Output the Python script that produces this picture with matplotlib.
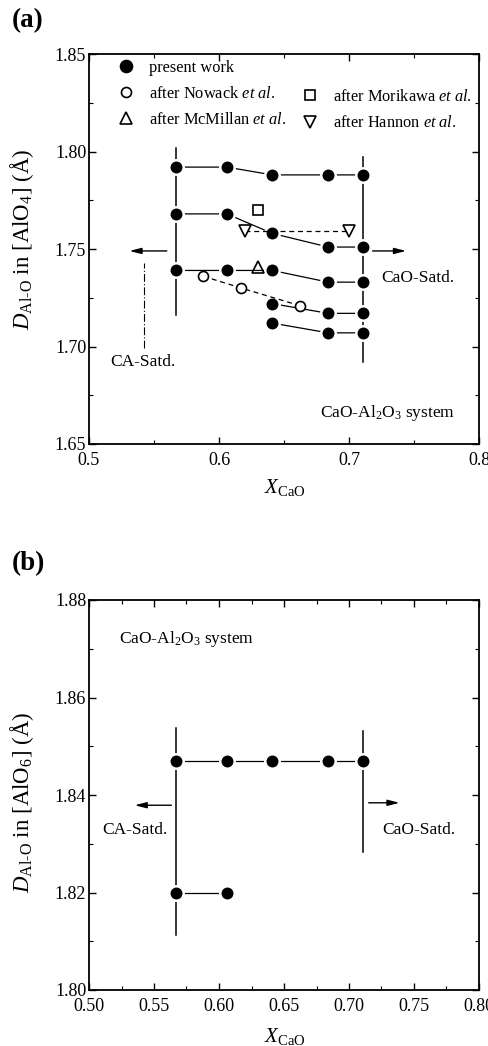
import matplotlib
matplotlib.use("Agg")
import matplotlib.pyplot as plt
from matplotlib.lines import Line2D
from matplotlib.ticker import MultipleLocator, FormatStrFormatter

plt.rcParams['font.family'] = ['Liberation Serif', 'DejaVu Serif']
plt.rcParams['mathtext.fontset'] = 'custom'
plt.rcParams['mathtext.rm'] = 'Liberation Serif'
plt.rcParams['mathtext.it'] = 'Liberation Serif:italic'
plt.rcParams['mathtext.bf'] = 'Liberation Serif:bold'

# composition of the five melts (mole fraction CaO)
x_cao = [0.567, 0.606, 0.641, 0.684, 0.711]

# (a) Al-O distance in [AlO4], present work, one list per peak series
a_row1 = [1.792, 1.792, 1.788, 1.788, 1.788]
a_row2 = [1.768, 1.768, 1.758, 1.751, 1.751]
a_row3 = [1.739, 1.739, 1.739, 1.733, 1.733]
x_short = [0.641, 0.684, 0.711]
a_row4 = [1.722, 1.717, 1.717]
a_row5 = [1.712, 1.707, 1.707]

# literature values
nowack_x = [0.588, 0.617, 0.662]
nowack_y = [1.736, 1.730, 1.721]
morikawa_x = [0.630]
morikawa_y = [1.770]
mcmillan_x = [0.630]
mcmillan_y = [1.741]
hannon_x = [0.620, 0.700]
hannon_y = [1.759, 1.759]

# (b) Al-O distance in [AlO6]
b_row1 = [1.847, 1.847, 1.847, 1.847, 1.847]
x_b2 = [0.567, 0.606]
b_row2 = [1.820, 1.820]

fs = 12.5
fs_leg = 11.8
fs_tick = 13
fs_lab = 16.5
fig = plt.figure(figsize=(4.89, 10.46), dpi=100)
ax_a = fig.add_axes([89 / 489, 1 - 444 / 1046, 390 / 489, 390 / 1046])
ax_b = fig.add_axes([89 / 489, 1 - 990 / 1046, 390 / 489, 390 / 1046])

# white rim around the solid dots leaves a small gap where the lines meet them
fill_kw = dict(marker='o', ms=10.4, mfc='k', mec='white', mew=1.8, color='k', lw=0.9)
open_kw = dict(mfc='white', mec='k', mew=1.2, color='k', lw=0.9)
arrow_kw = dict(arrowstyle='-|>,head_length=0.7,head_width=0.18', lw=1.0, color='k')


def style_axes(ax, xmaj, xmin, ymaj, ymin, xfmt, yfmt):
    for sp in ax.spines.values():
        sp.set_linewidth(1.3)
    ax.xaxis.set_major_locator(MultipleLocator(xmaj))
    ax.xaxis.set_minor_locator(MultipleLocator(xmin))
    ax.yaxis.set_major_locator(MultipleLocator(ymaj))
    ax.yaxis.set_minor_locator(MultipleLocator(ymin))
    ax.xaxis.set_major_formatter(FormatStrFormatter(xfmt))
    ax.yaxis.set_major_formatter(FormatStrFormatter(yfmt))
    ax.tick_params(which='both', direction='in', top=True, right=True, labelsize=fs_tick)
    ax.tick_params(which='major', length=5, width=1.0)
    ax.tick_params(which='minor', length=3, width=0.8)
    ax.tick_params(axis='y', pad=2)
    ax.tick_params(axis='x', pad=6)


# ---- panel (a) ----
ax = ax_a
ax.plot(x_cao, a_row1, **fill_kw, zorder=3)
ax.plot(x_cao, a_row2, **fill_kw, zorder=3)
ax.plot(x_cao, a_row3, **fill_kw, zorder=3)
ax.plot(x_short, a_row4, **fill_kw, zorder=3)
ax.plot(x_short, a_row5, **fill_kw, zorder=3)
ax.plot(nowack_x, nowack_y, marker='o', ms=7.2, ls=(0, (4, 3)), **open_kw, zorder=4)
ax.plot(morikawa_x, morikawa_y, marker='s', ms=7.6, ls='none', **open_kw, zorder=4)
ax.plot(mcmillan_x, mcmillan_y, marker='^', ms=8.5, ls='none', mfc='none', mec='k', mew=1.2, zorder=4)
ax.plot(hannon_x, hannon_y, marker='v', ms=8.5, ls=(0, (4, 3)), **open_kw, zorder=4)

# saturation limits
ax.plot([x_cao[0], x_cao[0]], [1.716, 1.802], color='k', lw=1.1, zorder=2)
ax.plot([x_cao[-1], x_cao[-1]], [1.692, 1.797], color='k', lw=1.1, zorder=2)
ax.plot([0.542, 0.542], [1.699, 1.743], color='k', lw=0.8, ls=(0, (7, 2, 1, 2)))
ax.annotate('', xy=(0.529, 1.749), xytext=(0.562, 1.749), arrowprops=arrow_kw)
ax.annotate('', xy=(0.746, 1.749), xytext=(0.716, 1.749), arrowprops=arrow_kw)
ax.text(0.516, 1.692, 'CA-Satd.', fontsize=fs, va='center', ha='left')
ax.text(0.7245, 1.735, 'CaO-Satd.', fontsize=fs, va='center', ha='left')
ax.text(0.782, 1.666, r'CaO-Al$_2$O$_3$ system', fontsize=fs, va='center', ha='right')

ax.set_xlim(0.5, 0.8)
ax.set_ylim(1.65, 1.85)
style_axes(ax, 0.1, 0.05, 0.05, 0.025, '%.1f', '%.2f')
ax.set_xlabel(r'$X_{\mathrm{CaO}}$', fontsize=15)
ax.set_ylabel(r'$D_{\mathrm{Al\text{-}O}}$ in [AlO$_4$] (Å)', fontsize=fs_lab)
ax.xaxis.set_label_coords(0.503, -0.085)
ax.yaxis.set_label_coords(-0.135, 0.525)

h_fill = Line2D([], [], ls='none', marker='o', ms=8.8, mfc='k', mec='k')
h_now = Line2D([], [], ls='none', marker='o', ms=7.2, mfc='white', mec='k', mew=1.2)
h_mcm = Line2D([], [], ls='none', marker='^', ms=8.5, mfc='white', mec='k', mew=1.2)
h_mor = Line2D([], [], ls='none', marker='s', ms=7.6, mfc='white', mec='k', mew=1.2)
h_han = Line2D([], [], ls='none', marker='v', ms=8.5, mfc='white', mec='k', mew=1.2)
leg_kw = dict(frameon=False, fontsize=fs_leg, handlelength=1.0, handletextpad=0.9,
              labelspacing=0.62, borderpad=0, borderaxespad=0, loc='upper left')
leg1 = ax.legend([h_fill, h_now, h_mcm],
                 ['present work', r'after Nowack $\mathit{et\ al.}$',
                  r'after McMillan $\mathit{et\ al.}$'],
                 bbox_to_anchor=(0.075, 0.985), **leg_kw)
ax.add_artist(leg1)
ax.legend([h_mor, h_han],
          [r'after Morikawa $\mathit{et\ al.}$', r'after Hannon $\mathit{et\ al.}$'],
          bbox_to_anchor=(0.546, 0.91), **leg_kw)

# ---- panel (b) ----
ax = ax_b
ax.plot(x_cao, b_row1, **fill_kw, zorder=3)
ax.plot(x_b2, b_row2, **fill_kw, zorder=3)
ax.plot([x_cao[0], x_cao[0]], [1.8113, 1.8537], color='k', lw=1.1, zorder=2)
ax.plot([x_cao[-1], x_cao[-1]], [1.8284, 1.8531], color='k', lw=1.1, zorder=2)
ax.annotate('', xy=(0.533, 1.8379), xytext=(0.5655, 1.8379), arrowprops=arrow_kw)
ax.annotate('', xy=(0.741, 1.8384), xytext=(0.713, 1.8384), arrowprops=arrow_kw)
ax.text(0.5105, 1.8328, 'CA-Satd.', fontsize=fs, va='center', ha='left')
ax.text(0.7252, 1.8328, 'CaO-Satd.', fontsize=fs, va='center', ha='left')
ax.text(0.523, 1.8721, r'CaO-Al$_2$O$_3$ system', fontsize=fs, va='center', ha='left')

ax.set_xlim(0.5, 0.8)
ax.set_ylim(1.80, 1.88)
style_axes(ax, 0.05, 0.025, 0.02, 0.01, '%.2f', '%.2f')
ax.set_xlabel(r'$X_{\mathrm{CaO}}$', fontsize=15)
ax.set_ylabel(r'$D_{\mathrm{Al\text{-}O}}$ in [AlO$_6$] (Å)', fontsize=fs_lab)
ax.xaxis.set_label_coords(0.503, -0.093)
ax.yaxis.set_label_coords(-0.135, 0.48)

fig.text(12 / 489, 1 - 21 / 1046, '(a)', fontsize=19.5, fontweight='bold', va='center', ha='left')
fig.text(12 / 489, 1 - 564 / 1046, '(b)', fontsize=19.5, fontweight='bold', va='center', ha='left')

fig.savefig('out.png', dpi=100)
